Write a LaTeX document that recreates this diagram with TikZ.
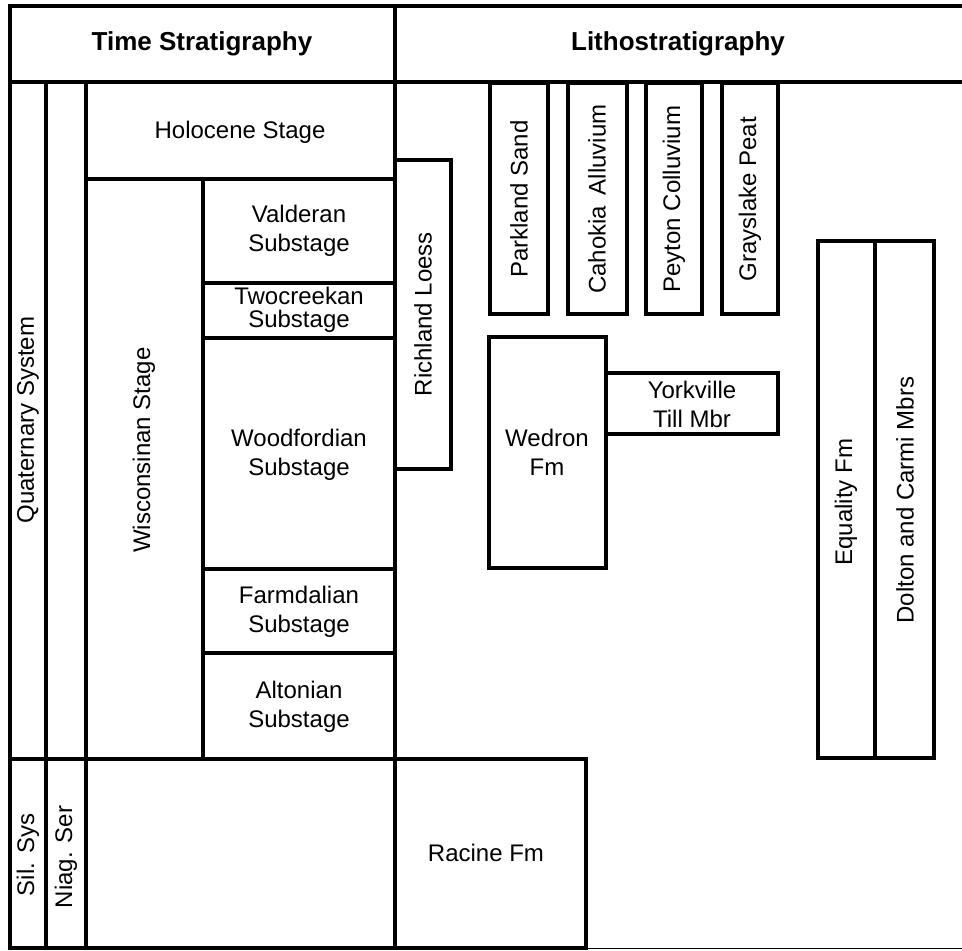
\documentclass[tikz,border=0pt]{standalone}
\usepackage{fontspec}
\setmainfont{Liberation Sans}
\tikzset{
  frame/.style={line width=1.8pt, line cap=rect},
  lbl/.style={font=\fontsize{12}{14.5}\selectfont, align=center, inner sep=0pt},
  vlbl/.style={lbl, rotate=90},
  head/.style={font=\fontsize{13}{15}\selectfont\bfseries, inner sep=0pt}
}
\begin{document}
\begin{tikzpicture}[x=0.5pt,y=-0.5pt]
\useasboundingbox (0,0) rectangle (962,950);
%testata
\draw[frame] (10,6) -- (962,6);
\draw[frame] (10,82) -- (962,82);
\draw[frame] (10,6) -- (10,948);
\draw[frame] (395,6) -- (395,948);
\node[head] (ts) at (202,44) {Time Stratigraphy};
\node[head] (ls) at (678,44) {Lithostratigraphy};
%fondo
\draw[frame] (10,948) -- (586,948);
\draw[thin] (586,948) -- (962,948);
%stratigrafia temporale
\draw[frame] (46,82) -- (46,948);
\draw[frame] (86,82) -- (86,948);
\draw[frame] (86,179) -- (395,179);
\draw[frame] (10,759) -- (586,759);
\draw[frame] (203,179) -- (203,759);
\foreach \y in {283, 338, 569, 653}{
\draw[frame] (203,\y) -- (395,\y);
}
\node[vlbl] (qs) at (28,420) {Quaternary System};
\node[vlbl] (ss) at (28,855) {Sil. Sys};
\node[vlbl] (ns) at (66,857) {Niag. Ser};
\node[lbl] (hol) at (240,132) {Holocene Stage};
\node[vlbl] (wis) at (144,450) {Wisconsinan Stage};
\node[lbl] (val) at (299,231) {Valderan\\Substage};
\node[lbl, font=\fontsize{12}{11.5}\selectfont] (two) at (299,310) {Twocreekan\\Substage};
\node[lbl] (woo) at (299,455) {Woodfordian\\Substage};
\node[lbl] (far) at (299,612) {Farmdalian\\Substage};
\node[lbl] (alt) at (299,707) {Altonian\\Substage};
%litostratigrafia
\draw[frame] (395,160) rectangle (451,469);
\node[vlbl] (ric) at (423,314) {Richland Loess};
\draw[frame] (490,83) rectangle (548,314);
\draw[frame] (568,83) rectangle (627,314);
\draw[frame] (646,83) rectangle (702,314);
\draw[frame] (722,83) rectangle (778,314);
\node[vlbl] (par) at (519,199) {Parkland Sand};
\node[vlbl] (cah) at (597,199) {Cahokia\, Alluvium};
\node[vlbl] (pey) at (674,199) {Peyton Colluvium};
\node[vlbl] (gra) at (750,199) {Grayslake Peat};
\draw[frame] (489,337) rectangle (606,568);
\draw[frame] (606,373) rectangle (778,434);
\node[lbl] (wed) at (547,452) {Wedron\\Fm};
\node[lbl] (yor) at (692,404) {Yorkville\\Till Mbr};
\draw[frame] (818,241) rectangle (934,758);
\draw[frame] (875,241) -- (875,758);
\node[vlbl] (equ) at (846,502) {Equality Fm};
\node[vlbl] (dol) at (905,500) {Dolton and Carmi Mbrs};
\draw[frame] (586,759) -- (586,948);
\node[lbl] (rac) at (486,853) {Racine Fm};
\end{tikzpicture}
\end{document}
